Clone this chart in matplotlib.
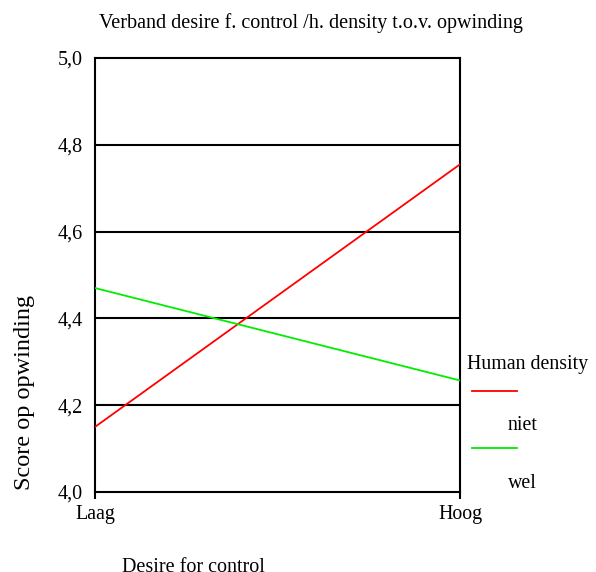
import matplotlib.pyplot as plt
from matplotlib.lines import Line2D

plt.rcParams['font.family'] = ['Liberation Serif', 'DejaVu Serif']

# Data
categories = ['Laag', 'Hoog']
niet = [4.15, 4.755]
wel = [4.47, 4.257]
yticks = [4.0, 4.2, 4.4, 4.6, 4.8, 5.0]
ytick_labels = ['4,0', '4,2', '4,4', '4,6', '4,8', '5,0']

fig = plt.figure(figsize=(5.96, 5.72), dpi=100)
W, H = 596, 572
ax = fig.add_axes([95 / W, 1 - 492 / H, (460 - 95) / W, (492 - 58) / H])

x = range(len(categories))
ax.plot(x, niet, color='#ff0000', lw=1.3, zorder=3)
ax.plot(x, wel, color='#00ee00', lw=1.3, zorder=3)

ax.set_xlim(0, 1)
ax.set_ylim(4.0, 5.0)
ax.set_xticks(list(x))
ax.set_xticklabels(categories, fontsize=14.3)
ax.set_yticks(yticks)
ax.set_yticklabels(ytick_labels, fontsize=14.5)
ax.tick_params(axis='y', length=0, pad=8.5)
ax.tick_params(axis='x', length=5, width=1.5, direction='out', pad=4)
for y in yticks[1:-1]:
    ax.axhline(y, color='black', lw=1.5, zorder=1)
for s in ax.spines.values():
    s.set_linewidth(1.5)

fig.text(311 / W, 1 - 23 / H, 'Verband desire f. control /h. density t.o.v. opwinding',
         ha='center', va='center', fontsize=14.5)
fig.text(25 / W, 1 - 392 / H, 'Score op opwinding', rotation=90,
         ha='center', va='center', fontsize=17.5)
fig.text(122 / W, 1 - 558 / H, 'Desire for control', ha='left', va='top', fontsize=14.5)

# legend
fig.text(467 / W, 1 - 365 / H, 'Human density', ha='left', va='center', fontsize=14.3)
fig.add_artist(Line2D([472 / W, 517 / W], [1 - 391 / H, 1 - 391 / H],
                      color='#ff0000', lw=1.3, transform=fig.transFigure))
fig.text(508 / W, 1 - 425 / H, 'niet', ha='left', va='center', fontsize=14.3)
fig.add_artist(Line2D([472 / W, 517 / W], [1 - 448 / H, 1 - 448 / H],
                      color='#00ee00', lw=1.3, transform=fig.transFigure))
fig.text(508 / W, 1 - 483 / H, 'wel', ha='left', va='center', fontsize=14.3)

fig.savefig('out.png', dpi=100)
